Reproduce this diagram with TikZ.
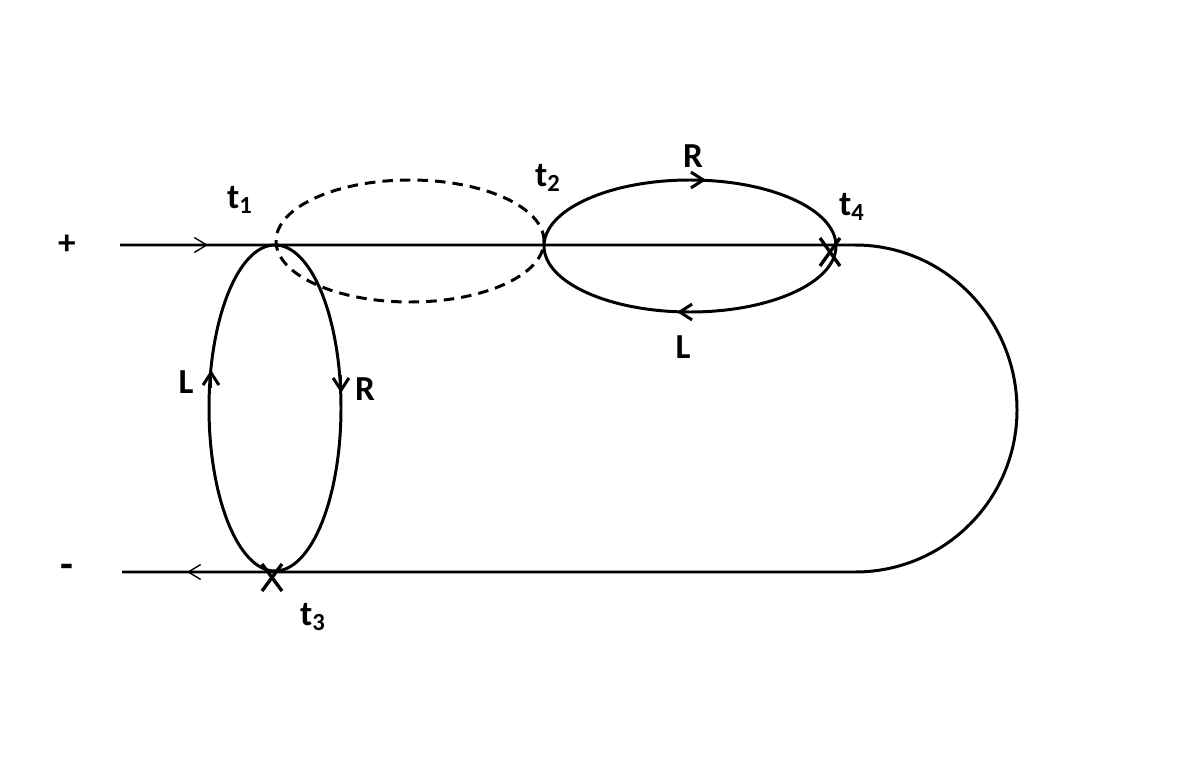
\documentclass[tikz,border=0pt]{standalone}
\usepackage{fontspec}
\setmainfont{Carlito}
\usetikzlibrary{arrows.meta}
\tikzset{
  wire/.style={line width=1.7pt},
  ghost/.style={line width=1.7pt,dash pattern=on 6pt off 4pt},
  tip/.style={line width=1.7pt,-{Straight Barb[length=7pt,width=9pt]}},
  thintip/.style={line width=0.8pt,-{Straight Barb[length=7pt,width=8.5pt]}},
  cross/.style={line width=1.9pt},
  lbl/.style={font=\fontsize{20}{23}\selectfont\bfseries,inner sep=0pt}
}
\begin{document}
\begin{tikzpicture}[x=0.02cm,y=0.02cm]
\useasboundingbox (0,0) rectangle (1203,779);
% ends and crossings of the line
\coordinate (pin) at (120,534);
\coordinate (bendtop) at (855,534);
\coordinate (pout) at (122,207);
\draw[wire] (pin) -- (bendtop)
  arc[start angle=90,end angle=0,x radius=162,y radius=165]
  arc[start angle=0,end angle=-90,x radius=162,y radius=162] -- (pout);
% loops
\draw[wire] (275,371) ellipse[x radius=66,y radius=163];
\draw[ghost] (410,538) ellipse[x radius=134,y radius=61];
\draw[wire] (690,533) ellipse[x radius=146,y radius=66];
% arrows
\draw[thintip] (192,534) -- (208,534);
\draw[thintip] (203,207) -- (187,207);
\draw[tip] (686,599) -- (706,599);
\draw[tip] (697,467) -- (677,467);
\draw[tip] (211,391) -- (211,409);
\draw[tip] (341,404) -- (341,386);
% crossings marked X
\draw[cross] (820,541) -- (840,513) (820,513) -- (840,541);
\draw[cross] (262,215) -- (282,188) (262,188) -- (282,215);
% labels
\node[lbl] (plus) at (67,534) {+};
\node[lbl,font=\fontsize{24}{26}\selectfont\bfseries] (minus) at (67,208) {-};
\node[lbl] (lt1) at (240,579) {t\textsubscript{1}};
\node[lbl] (lt2) at (548,601) {t\textsubscript{2}};
\node[lbl] (lt3) at (313,162) {t\textsubscript{3}};
\node[lbl] (lt4) at (852,572) {t\textsubscript{4}};
\node[lbl] (rtop) at (693,623) {R};
\node[lbl] (lbot) at (683,432) {L};
\node[lbl] (lleft) at (186,397) {L};
\node[lbl] (rright) at (365,390) {R};
\end{tikzpicture}
\end{document}
